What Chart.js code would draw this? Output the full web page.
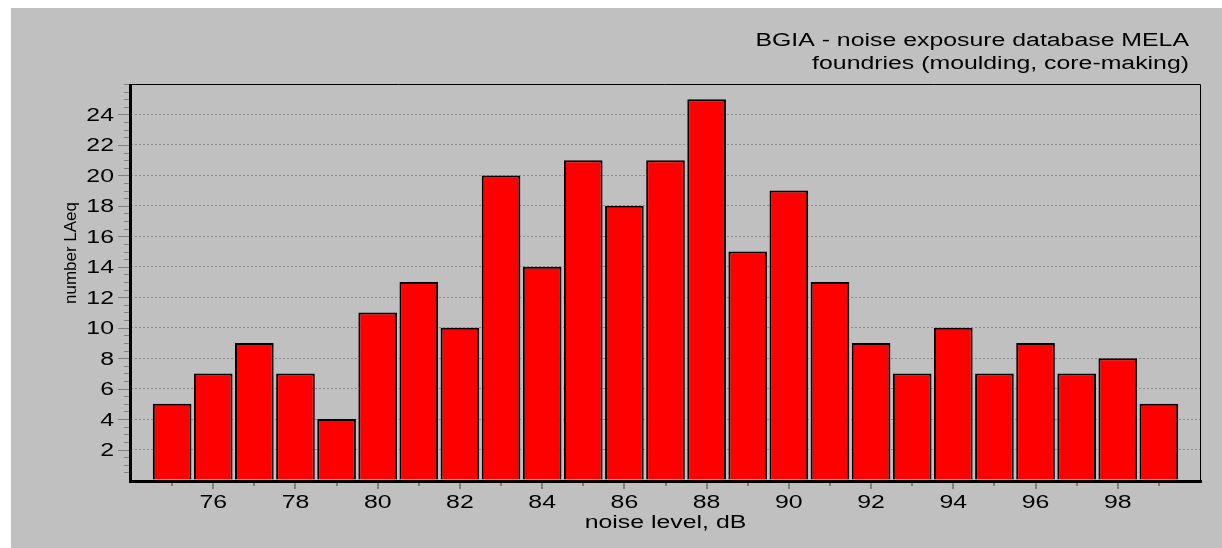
<!DOCTYPE html>
<html>
<head>
<meta charset="utf-8">
<script src="https://cdn.jsdelivr.net/npm/chart.js@4/dist/chart.umd.min.js"></script>
<style>
  html, body { margin: 0; padding: 0; background: #fff; }
  canvas { display: block; }
</style>
</head>
<body>
<canvas id="noiseChart" width="1222" height="548"></canvas>
<script>
// noise level classes (dB) and how many LAeq measurements fall in each
const noiseLevels = [75, 76, 77, 78, 79, 80, 81, 82, 83, 84, 85, 86, 87, 88, 89, 90, 91, 92, 93, 94, 95, 96, 97, 98, 99];
const counts = [5, 7, 9, 7, 4, 11, 13, 10, 20, 14, 21, 18, 21, 25, 15, 19, 13, 9, 7, 10, 7, 9, 7, 8, 5];
const xTickLabels = [76, 78, 80, 82, 84, 86, 88, 90, 92, 94, 96, 98];
const yTickLabels = [2, 4, 6, 8, 10, 12, 14, 16, 18, 20, 22, 24];
const titleLines = ["BGIA - noise exposure database MELA", "foundries (moulding, core-making)"];

const GRAY = "#c0c0c0";
const TICK = "#808080";
const FONT = "18px 'Liberation Sans', Arial, sans-serif";
const STRETCH = 1.38; // the original lettering is a wide face

function wideText(ctx, text, x, y, align) {
  ctx.save();
  ctx.translate(x, y);
  ctx.scale(STRETCH, 1);
  ctx.textAlign = align;
  ctx.textBaseline = "alphabetic";
  ctx.fillText(text, 0, 0);
  ctx.restore();
}

// gray panel, frame, ticks, labels and titles
const decor = {
  id: "decor",
  beforeDraw(chart) {
    const ctx = chart.ctx;
    ctx.save();
    ctx.fillStyle = "#fff";
    ctx.fillRect(0, 0, chart.width, chart.height);
    ctx.fillStyle = GRAY;
    ctx.fillRect(11, 8, chart.width - 11, chart.height - 8);
    ctx.restore();
  },
  afterDraw(chart) {
    const ctx = chart.ctx;
    const a = chart.chartArea;
    const xs = chart.scales.x, ys = chart.scales.y;
    ctx.save();

    // tick marks
    ctx.strokeStyle = TICK;
    ctx.lineWidth = 1;
    for (let v = 0.5; v <= 26; v += 0.5) {
      const y = Math.round(ys.getPixelForValue(v)) + 0.5;
      const major = yTickLabels.includes(v);
      ctx.beginPath();
      ctx.moveTo(a.left - (major ? 13 : 7), y);
      ctx.lineTo(a.left, y);
      ctx.stroke();
    }
    ctx.lineWidth = 2;
    for (let v = 75; v <= 99; v++) {
      const x = Math.round(xs.getPixelForValue(v));
      const major = xTickLabels.includes(v);
      ctx.beginPath();
      ctx.moveTo(x, a.bottom);
      ctx.lineTo(x, a.bottom + (major ? 9 : 6));
      ctx.stroke();
    }

    // frame
    ctx.strokeStyle = "#000";
    ctx.lineWidth = 1;
    ctx.beginPath();
    ctx.moveTo(a.left, a.top + 0.5);
    ctx.lineTo(a.right + 0.5, a.top + 0.5);
    ctx.lineTo(a.right + 0.5, a.bottom);
    ctx.stroke();
    ctx.lineWidth = 3;
    ctx.beginPath();
    ctx.moveTo(a.left - 0.5, a.top);
    ctx.lineTo(a.left - 0.5, a.bottom + 1.5);
    ctx.lineTo(a.right + 2, a.bottom + 1.5);
    ctx.stroke();

    // tick labels
    ctx.fillStyle = "#000";
    ctx.font = FONT;
    xTickLabels.forEach(v => wideText(ctx, String(v), xs.getPixelForValue(v), 508, "center"));
    yTickLabels.forEach(v => wideText(ctx, String(v), a.left - 17, ys.getPixelForValue(v) + 6.5, "right"));

    // titles
    wideText(ctx, titleLines[0], 1189, 46, "right");
    wideText(ctx, titleLines[1], 1189, 69, "right");
    wideText(ctx, "noise level, dB", (a.left + a.right) / 2, 528, "center");

    ctx.font = "17px 'Liberation Sans', Arial, sans-serif";
    ctx.translate(76, 253);
    ctx.rotate(-Math.PI / 2);
    ctx.textAlign = "center";
    ctx.textBaseline = "alphabetic";
    ctx.fillText("number LAeq", 0, 0);
    ctx.restore();
  }
};

new Chart(document.getElementById("noiseChart"), {
  type: "bar",
  data: {
    datasets: [{
      data: noiseLevels.map((x, i) => ({ x: x, y: counts[i] })),
      backgroundColor: "#ff0000",
      borderColor: "#000",
      borderWidth: 2,
      categoryPercentage: 1,
      barPercentage: 0.94
    }]
  },
  options: {
    responsive: false,
    animation: false,
    devicePixelRatio: 1,
    layout: { padding: { left: 0, top: 84, right: 22, bottom: 0 } },
    plugins: { legend: { display: false }, tooltip: { enabled: false } },
    scales: {
      x: {
        type: "linear",
        min: 74,
        max: 100,
        offset: false,
        afterFit(s) { s.height = 68; },
        border: { display: false },
        grid: { display: false },
        ticks: { display: false, stepSize: 1 }
      },
      y: {
        min: 0,
        max: 26,
        afterFit(s) { s.width = 131; },
        border: { display: false, dash: [2, 2] },
        grid: {
          drawTicks: false,
          color: c => yTickLabels.includes(c.tick.value) ? "#8c8c8c" : "transparent"
        },
        ticks: { display: false, stepSize: 2 }
      }
    }
  },
  plugins: [decor]
});
</script>
</body>
</html>
